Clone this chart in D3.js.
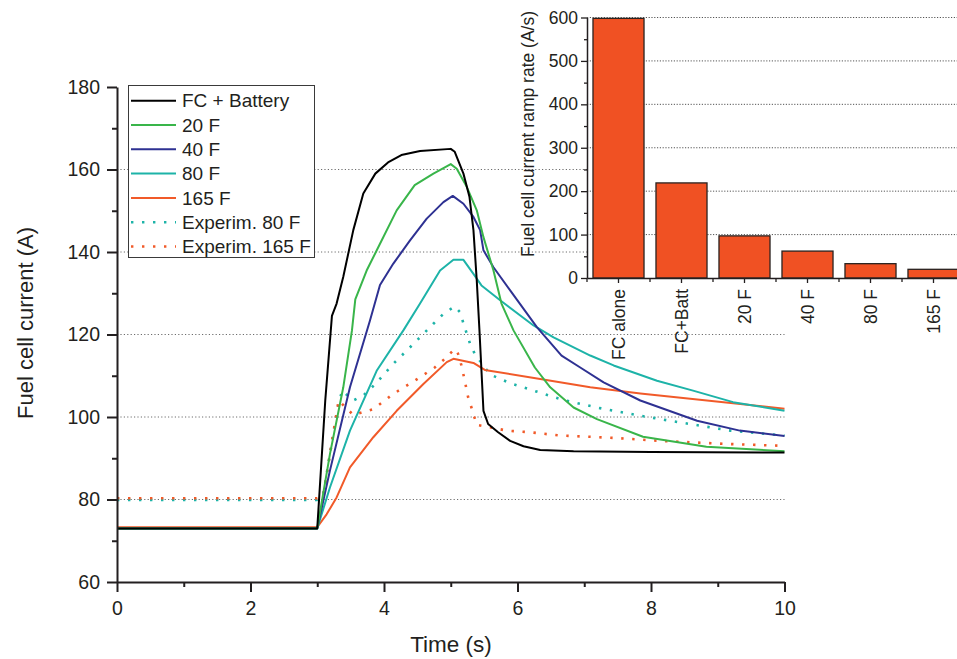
<!DOCTYPE html>
<html>
<head>
<meta charset="utf-8">
<script src="https://cdnjs.cloudflare.com/ajax/libs/d3/7.8.5/d3.min.js"></script>
<style>
  body { margin: 0; background: #fff; }
  svg { display: block; font-family: "Liberation Sans", Arial, sans-serif; }
</style>
</head>
<body>
<svg id="chart" width="957" height="659"></svg>
<script>
// Simulated fuel cell current (A) vs time (s)
const tBattery = [0, 3.0, 3.12, 3.22, 3.29, 3.39, 3.54, 3.69, 3.87, 4.06, 4.26, 4.54, 5.0, 5.06, 5.19, 5.28, 5.34, 5.39, 5.43, 5.49, 5.56, 5.71, 5.89, 6.09, 6.34, 6.84, 8, 10];
const iBattery = [73, 73, 104, 124.5, 127.5, 134, 145.3, 154.2, 159, 161.7, 163.5, 164.5, 165, 164.3, 159, 153.4, 145.3, 133, 121, 101.5, 98.3, 96.3, 94.2, 92.9, 92, 91.7, 91.5, 91.4];

const t20F = [0, 3.0, 3.19, 3.39, 3.52, 3.57, 3.74, 3.94, 4.19, 4.46, 4.74, 5.0, 5.09, 5.24, 5.39, 5.49, 5.64, 5.76, 5.94, 6.26, 6.49, 6.84, 7.19, 7.88, 8.83, 10];
const i20F = [73, 73, 91, 107.2, 121, 128.5, 135.5, 142, 150.1, 156.2, 159, 161.3, 160.2, 155.8, 150.1, 143.6, 135.5, 127.5, 121, 112, 107.2, 102.3, 99.5, 95.2, 92.8, 91.7];

const t40F = [0, 3.0, 3.19, 3.49, 3.79, 3.94, 4.14, 4.39, 4.64, 4.89, 5.03, 5.19, 5.34, 5.44, 5.49, 5.64, 5.89, 6.29, 6.66, 6.94, 7.29, 7.84, 8.69, 9.33, 10];
const i40F = [73, 73, 87, 107.2, 123.4, 132, 137.2, 142.8, 148.1, 152.1, 153.6, 151.7, 148.5, 145.3, 140.4, 136.3, 130.7, 121.8, 114.9, 112, 108.4, 104, 99.1, 96.7, 95.4];

const t80F = [0, 3.0, 3.19, 3.49, 3.89, 4.29, 4.54, 4.84, 5.04, 5.19, 5.34, 5.46, 5.74, 6.24, 6.54, 7.09, 7.44, 8.09, 8.63, 9.23, 10];
const i80F = [73, 73, 82.9, 96.7, 111.2, 121, 127.5, 135.5, 138.1, 138.1, 134.7, 131.9, 128.3, 122.2, 119.3, 114.9, 112.5, 108.8, 106.4, 103.6, 101.5];

const t165F = [0, 3.0, 3.14, 3.29, 3.49, 3.84, 4.19, 4.59, 4.94, 5.04, 5.34, 5.51, 6.34, 7.09, 7.84, 10];
const i165F = [73.3, 73.3, 76.4, 80.5, 87.8, 95.1, 101.5, 108, 113.3, 114.1, 113.1, 111.4, 109.2, 107.2, 105.7, 102];

// Experimental traces
const tExp80 = [0, 3.0, 3.09, 3.19, 3.29, 3.37, 3.54, 3.69, 3.87, 4.14, 4.44, 4.74, 4.89, 5.06, 5.14, 5.19, 5.24, 5.29, 5.36, 5.59, 5.89, 6.24, 6.69, 7.19, 7.84, 8.43, 9.19, 10];
const iExp80 = [79.9, 79.9, 81.3, 91, 100.7, 106.4, 104, 105.2, 108, 112.9, 117.7, 122.6, 125, 126.8, 125.4, 122.7, 120.2, 117.7, 115.3, 110.3, 108.2, 106.4, 104.1, 102.3, 100.3, 98.7, 96.7, 95.5];

const tExp165 = [0, 3.0, 3.09, 3.2, 3.32, 3.54, 3.84, 4.14, 4.46, 4.76, 4.91, 5.06, 5.11, 5.16, 5.21, 5.26, 5.31, 5.39, 5.59, 5.84, 6.19, 6.64, 7.09, 7.59, 8.03, 9.08, 10];
const iExp165 = [80.3, 80.3, 80.9, 92, 104, 100.5, 101.9, 105.6, 108.8, 112, 114.1, 116.5, 115.3, 112.5, 108.8, 104.8, 102.3, 98.1, 97.5, 96.7, 96.3, 95.5, 95.2, 94.8, 94.3, 93.5, 93];

// Inset: ramp rates (A/s)
const rampCategories = ["FC alone", "FC+Batt", "20 F", "40 F", "80 F", "165 F"];
const rampValues = [598, 219, 97, 62, 33, 20];

const xTicks = [0, 2, 4, 6, 8, 10];
const yTicks = [60, 80, 100, 120, 140, 160, 180];
const gridValues = [80, 100, 120, 140, 160];

const series = [
  { name: "FC + Battery", t: tBattery, v: iBattery, color: "#000000", dotted: false },
  { name: "20 F", t: t20F, v: i20F, color: "#39b54a", dotted: false },
  { name: "40 F", t: t40F, v: i40F, color: "#2e3192", dotted: false },
  { name: "80 F", t: t80F, v: i80F, color: "#1db3a8", dotted: false },
  { name: "165 F", t: t165F, v: i165F, color: "#f15a29", dotted: false },
  { name: "Experim. 80 F", t: tExp80, v: iExp80, color: "#1db3a8", dotted: true },
  { name: "Experim. 165 F", t: tExp165, v: iExp165, color: "#f15a29", dotted: true }
];

const ink = "#231f20";
const svg = d3.select("#chart");
svg.append("rect").attr("width", 957).attr("height", 659).attr("fill", "#fff");

// main scales
const x = d3.scaleLinear().domain([0, 10]).range([117, 784.5]);
const y = d3.scaleLinear().domain([60, 180]).range([582, 87]);

// grid
svg.append("g").selectAll("line")
  .data(gridValues).join("line")
  .attr("x1", x(0)).attr("x2", x(10))
  .attr("y1", d => y(d)).attr("y2", d => y(d))
  .attr("stroke", "#6d6d6d").attr("stroke-width", 1)
  .attr("stroke-dasharray", "1.2,2.2");

// curves (draw experimental first so solid lines sit on top)
const line = d3.line().x(d => x(d[0])).y(d => y(d[1]));
const order = [5, 6, 4, 3, 2, 1, 0];
order.forEach(k => {
  const s = series[k];
  const pts = s.t.map((t, j) => [t, s.v[j]]);
  svg.append("path")
    .attr("d", line(pts))
    .attr("fill", "none")
    .attr("stroke", s.color)
    .attr("stroke-width", s.dotted ? 2.6 : 2)
    .attr("stroke-linejoin", "round")
    .attr("stroke-dasharray", s.dotted ? "2.4,8.6" : null);
});

// legend
const lg = svg.append("g");
lg.append("rect")
  .attr("x", 128.5).attr("y", 85.5).attr("width", 186).attr("height", 172)
  .attr("fill", "#fff").attr("stroke", "#3a3a3a").attr("stroke-width", 1);
series.forEach((s, k) => {
  const yy = 100.7 + k * 24.3;
  lg.append("line")
    .attr("x1", 131).attr("x2", 176).attr("y1", yy).attr("y2", yy)
    .attr("stroke", s.color)
    .attr("stroke-width", s.dotted ? 2.6 : 2)
    .attr("stroke-dasharray", s.dotted ? "2.4,8.6" : null);
  lg.append("text")
    .attr("x", 182).attr("y", yy).attr("dy", "0.35em")
    .attr("font-size", 19).attr("fill", ink)
    .text(s.name);
});

// main axes
const xAxis = svg.append("g").attr("transform", `translate(0,${y(60)})`)
  .call(d3.axisBottom(x).tickValues(xTicks).tickSize(10).tickSizeOuter(0).tickPadding(9).tickFormat(d3.format("d")));
svg.append("g").attr("transform", `translate(0,${y(60)})`)
  .call(d3.axisBottom(x).tickValues([1, 3, 5, 7, 9]).tickSize(5).tickFormat(""))
  .call(g => g.select(".domain").remove());
const yAxis = svg.append("g").attr("transform", `translate(${x(0)},0)`)
  .call(d3.axisLeft(y).tickValues(yTicks).tickSize(10).tickSizeOuter(0).tickPadding(7));
svg.append("g").attr("transform", `translate(${x(0)},0)`)
  .call(d3.axisLeft(y).tickValues([70, 90, 110, 130, 150, 170]).tickSize(5).tickFormat(""))
  .call(g => g.select(".domain").remove());

svg.selectAll(".tick line").attr("stroke", ink).attr("stroke-width", 2);
[xAxis, yAxis].forEach(a => {
  a.select(".domain").attr("stroke", ink).attr("stroke-width", 2);
  a.selectAll("text").attr("font-size", 19.5).attr("fill", ink).attr("font-family", null);
});

svg.append("text")
  .attr("x", 451).attr("y", 652)
  .attr("text-anchor", "middle").attr("font-size", 22.5).attr("fill", ink)
  .text("Time (s)");
svg.append("text")
  .attr("transform", "translate(33,323) rotate(-90)")
  .attr("text-anchor", "middle").attr("font-size", 22).attr("fill", ink)
  .text("Fuel cell current (A)");

// ---- inset bar chart ----
const xb = d3.scaleBand().domain(rampCategories).range([587, 965])
  .paddingInner(0.19).paddingOuter(0.095);
const yb = d3.scaleLinear().domain([0, 600]).range([278, 17.5]);

const inset = svg.append("g");
inset.append("rect")
  .attr("x", 587).attr("y", 8).attr("width", 370).attr("height", 270)
  .attr("fill", "#fff");

inset.append("g").selectAll("line")
  .data([100, 200, 300, 400, 500, 600]).join("line")
  .attr("x1", 587).attr("x2", 957)
  .attr("y1", d => yb(d)).attr("y2", d => yb(d))
  .attr("stroke", "#555").attr("stroke-width", 1)
  .attr("stroke-dasharray", "1.2,1.6");

inset.append("g").selectAll("rect")
  .data(rampValues).join("rect")
  .attr("x", (d, i) => xb(rampCategories[i]))
  .attr("y", d => yb(d))
  .attr("width", xb.bandwidth())
  .attr("height", d => yb(0) - yb(d))
  .attr("fill", "#f05123")
  .attr("stroke", "#2a2320").attr("stroke-width", 1.3);

const ybAxis = inset.append("g").attr("transform", "translate(587,0)")
  .call(d3.axisLeft(yb).tickValues([0, 100, 200, 300, 400, 500, 600]).tickSize(6).tickSizeOuter(0).tickPadding(3));
inset.append("g").attr("transform", "translate(587,0)")
  .call(d3.axisLeft(yb).tickValues([50, 150, 250, 350, 450, 550]).tickSize(3).tickFormat(""))
  .call(g => g.select(".domain").remove());

const xbAxis = inset.append("g").attr("transform", `translate(0,${yb(0)})`)
  .call(d3.axisBottom(xb).tickSize(5).tickSizeOuter(0));
inset.append("g").attr("transform", `translate(0,${yb(0)})`)
  .selectAll("line")
  .data(rampCategories).join("line")
  .attr("x1", d => xb(d) + xb.bandwidth() / 2 - xb.step() / 2)
  .attr("x2", d => xb(d) + xb.bandwidth() / 2 - xb.step() / 2)
  .attr("y1", 0).attr("y2", 4)
  .attr("stroke", ink).attr("stroke-width", 1.3);

xbAxis.selectAll("text")
  .attr("transform", "rotate(-90)")
  .attr("x", -11).attr("y", 0).attr("dy", "0.35em")
  .attr("text-anchor", "end");

[ybAxis, xbAxis].forEach(a => {
  a.select(".domain").attr("stroke", ink).attr("stroke-width", 1.5);
  a.selectAll(".tick line").attr("stroke", ink).attr("stroke-width", 1.3);
  a.selectAll("text").attr("font-size", 17.5).attr("fill", ink).attr("font-family", null);
});
inset.selectAll(".tick line").attr("stroke", ink).attr("stroke-width", 1.3);

inset.append("text")
  .attr("transform", "translate(534,134) rotate(-90)")
  .attr("text-anchor", "middle").attr("font-size", 17.5).attr("fill", ink)
  .text("Fuel cell current ramp rate (A/s)");
</script>
</body>
</html>
